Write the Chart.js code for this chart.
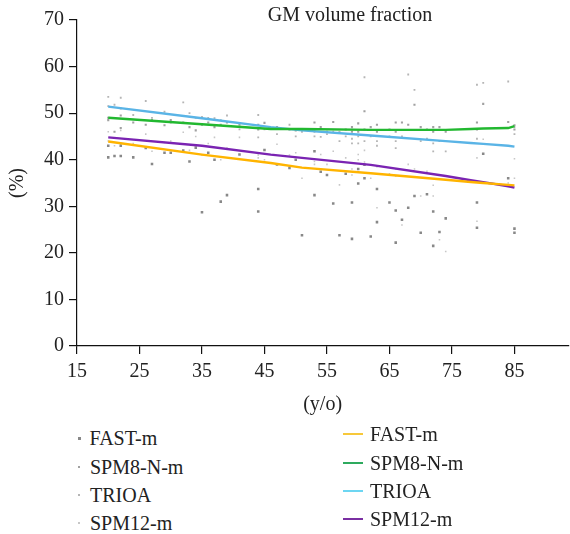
<!DOCTYPE html>
<html>
<head>
<meta charset="utf-8">
<script src="https://cdn.jsdelivr.net/npm/chart.js@4.4.1/dist/chart.umd.min.js"></script>
<style>
  body { margin: 0; background: #fff; }
  .wrap { position: relative; width: 570px; height: 534px; font-family: 'Liberation Serif', 'DejaVu Serif', serif; color: #222; }
  #box { position: absolute; left: 0; top: 0; width: 570px; height: 420px; }
  .legend { position: absolute; font-size: 20px; }
  .legend div { height: 28.3px; line-height: 28.3px; white-space: nowrap; }
  .legend span { display: inline-block; vertical-align: middle; }
</style>
</head>
<body>
<div class="wrap">
  <div id="box"><canvas id="gmChart"></canvas></div>
  <div class="legend" id="legLeft" style="left:76px; top:422px;"></div>
  <div class="legend" id="legRight" style="left:343px; top:418px;"></div>
</div>
<script>
const xTicks = [15, 25, 35, 45, 55, 65, 75, 85];
const yTicks = [0, 10, 20, 30, 40, 50, 60, 70];

// one entry per subject, values in %
const ages  = [20, 20, 21, 22, 22, 24, 26, 27, 29, 30, 32, 33, 34, 35, 36, 37, 38, 39, 41, 44,
               44, 45, 47, 49, 50, 51, 53, 53, 54, 55, 56, 57, 58, 59, 59, 60, 60, 61, 61, 62,
               63, 63, 65, 66, 66, 67, 68, 69, 70, 71, 72, 72, 73, 74, 79, 79, 80, 84, 85, 85];
const fastM = [43.0, 40.5, 40.8, 40.8, 43.0, 40.5, 42.5, 39.1, 41.5, 41.5, 42.0, 39.6, 42.6, 28.7, 41.5, 40.0, 31.0, 32.4, 41.1, 33.7,
               28.9, 42.1, 39.0, 38.2, 40.0, 23.8, 32.4, 41.8, 37.4, 36.7, 30.6, 23.8, 37.0, 30.8, 23.0, 34.9, 38.0, 38.9, 36.0, 23.5,
               33.7, 26.6, 30.8, 29.1, 22.2, 27.1, 29.7, 32.2, 24.3, 32.6, 28.9, 21.5, 24.5, 27.4, 30.8, 25.4, 41.3, 36.0, 25.2, 24.3];
const spm8M = [49.0, 48.5, 46.0, 46.8, 49.5, 48.0, 47.5, 48.5, 47.4, 48.5, 48.0, 47.0, 46.3, 47.5, 48.0, 47.0, 47.5, 48.0, 47.5, 47.5,
               46.5, 47.9, 47.0, 46.5, 46.3, 46.5, 48.0, 46.5, 47.0, 46.0, 48.1, 45.9, 46.5, 47.0, 46.0, 47.8, 46.0, 50.4, 46.5, 47.0,
               46.0, 47.5, 46.5, 48.0, 46.0, 48.0, 47.5, 51.8, 47.0, 46.5, 47.0, 46.0, 47.0, 46.0, 48.0, 46.5, 52.0, 48.1, 47.4, 46.5];
const trioa = [53.5, 51.5, 51.8, 53.3, 51.0, 49.6, 52.6, 49.0, 50.3, 48.0, 52.3, 50.0, 49.0, 49.2, 49.0, 48.9, 48.5, 49.5, 46.5, 49.6,
               44.8, 46.5, 45.5, 47.5, 45.0, 46.0, 46.0, 45.0, 44.9, 45.5, 46.0, 44.0, 45.0, 44.5, 43.5, 45.0, 43.5, 57.7, 44.0, 45.0,
               44.0, 43.0, 45.0, 44.0, 42.5, 45.0, 58.3, 55.0, 44.0, 44.5, 41.8, 43.5, 44.0, 41.8, 56.1, 44.5, 56.5, 56.8, 45.5, 47.0];
const spm12M = [46.0, 44.0, 43.0, 43.3, 46.3, 43.5, 45.5, 41.8, 43.7, 44.0, 45.9, 42.0, 45.0, 41.0, 43.5, 44.8, 40.0, 42.5, 44.8, 40.4,
                41.0, 40.0, 43.3, 41.0, 41.5, 36.0, 39.6, 39.0, 41.1, 39.0, 41.8, 34.6, 40.4, 36.7, 38.0, 41.1, 40.0, 42.0, 39.5, 36.0,
                29.7, 38.5, 37.0, 38.0, 36.5, 26.0, 39.0, 38.0, 32.2, 37.5, 34.5, 32.2, 22.8, 20.3, 26.8, 40.4, 44.4, 35.0, 40.2, 36.0];

// fitted trend lines
const fitAges   = [20, 35, 46, 51, 62, 74, 78, 80, 84, 85];
const fastFit   = [43.9, 41.1, 39.3, 38.3, 37.1, 35.7, 35.2, 35.0, 34.6, 34.5];
const spm8Fit   = [49.0, 47.6, 46.6, 46.6, 46.4, 46.4, 46.6, 46.7, 46.8, 47.2];
const trioaFit  = [51.4, 48.9, 47.0, 46.3, 45.2, 44.0, 43.6, 43.4, 43.0, 42.8];
const spm12Fit  = [44.8, 43.0, 41.1, 40.4, 38.9, 36.5, 35.6, 35.2, 34.3, 34.0];

const pts = vals => ages.map((a, i) => ({ x: a, y: vals[i] }));
const fit = vals => fitAges.map((a, i) => ({ x: a, y: vals[i] }));

const FONT = "'Liberation Serif', 'DejaVu Serif', serif";

function scatterSet(label, vals, r, color, legendSize) {
  return {
    label: label, data: pts(vals), pointStyle: 'rect', pointRadius: r, pointHoverRadius: r,
    backgroundColor: color, borderWidth: 0, showLine: false, order: 2,
    legendColor: color, legendSize: legendSize, kind: 'dot'
  };
}
function lineSet(label, vals, color, legendColor) {
  return {
    label: label, data: fit(vals), showLine: true, pointRadius: 0, borderColor: color,
    borderWidth: 2.4, backgroundColor: color, fill: false, tension: 0, order: 1, legendColor: legendColor, kind: 'line'
  };
}

const titlePlugin = {
  id: 'figTitle',
  afterDraw(chart) {
    const c = chart.ctx;
    c.save();
    c.font = '20px ' + FONT;
    c.fillStyle = '#222';
    c.textAlign = 'center';
    c.textBaseline = 'middle';
    c.fillText('GM volume fraction', 350, 16);
    c.restore();
  }
};

const ctx = document.getElementById('gmChart').getContext('2d');
const gmChart = new Chart(ctx, {
  type: 'scatter',
  data: {
    datasets: [
      scatterSet('FAST-m', fastM, 1.8, 'rgba(115,115,115,0.85)', 3),
      scatterSet('SPM8-N-m', spm8M, 1.5, 'rgba(130,130,130,0.75)', 2),
      scatterSet('TRIOA', trioa, 1.3, 'rgba(150,150,150,0.7)', 2),
      scatterSet('SPM12-m', spm12M, 1.1, 'rgba(175,175,175,0.7)', 2),
      lineSet('FAST-m', fastFit, '#ffb400', '#f7c83a'),
      lineSet('SPM8-N-m', spm8Fit, '#22b830', '#2eaa5e'),
      lineSet('TRIOA', trioaFit, '#5ab4e6', '#6dd6f2'),
      lineSet('SPM12-m', spm12Fit, '#7a24b2', '#7a2fa2')
    ]
  },
  options: {
    responsive: true,
    maintainAspectRatio: false,
    animation: false,
    layout: { padding: { top: 20, right: 0, left: 0, bottom: 0 } },
    plugins: { legend: { display: false }, tooltip: { enabled: false } },
    scales: {
      x: {
        type: 'linear', min: 15, max: 93.6,
        afterBuildTicks: s => { s.ticks = xTicks.map(v => ({ value: v })); },
        afterFit: s => { s.height = 74; },
        ticks: { color: '#222', font: { family: FONT, size: 20 }, padding: 6 },
        grid: { drawOnChartArea: false, drawTicks: true, tickLength: 8, color: '#111', lineWidth: 1.2 },
        border: { display: true, color: '#111', width: 1.2 },
        title: { display: true, text: '(y/o)', color: '#222', font: { family: FONT, size: 20 }, padding: { top: 2, bottom: 3 } }
      },
      y: {
        type: 'linear', min: 0, max: 70,
        afterBuildTicks: s => { s.ticks = yTicks.map(v => ({ value: v })); },
        afterFit: s => { s.width = 77; },
        ticks: { color: '#222', font: { family: FONT, size: 20 }, padding: 5 },
        grid: { drawOnChartArea: false, drawTicks: true, tickLength: 8, color: '#111', lineWidth: 1.2 },
        border: { display: true, color: '#111', width: 1.2 },
        title: { display: true, text: '(%)', color: '#222', font: { family: FONT, size: 20 }, padding: { top: 6, bottom: 2 } }
      }
    }
  },
  plugins: [titlePlugin]
});

// two-column legend: point markers on the left, fit lines on the right
function buildLegend() {
  const left = document.getElementById('legLeft');
  const right = document.getElementById('legRight');
  gmChart.data.datasets.forEach(ds => {
    const row = document.createElement('div');
    const mark = document.createElement('span');
    const text = document.createElement('span');
    text.textContent = ds.label;
    if (ds.kind === 'dot') {
      const sz = ds.legendSize;
      mark.style.cssText = `width:${sz}px;height:${sz}px;background:${ds.legendColor};margin:0 ${12 - sz}px 0 ${3 - sz / 2}px;`;
      row.appendChild(mark); row.appendChild(text);
      left.appendChild(row);
    } else {
      mark.style.cssText = `width:20px;height:2px;background:${ds.legendColor};margin-right:7px;`;
      row.appendChild(mark); row.appendChild(text);
      right.appendChild(row);
    }
  });
}
buildLegend();
</script>
</body>
</html>
